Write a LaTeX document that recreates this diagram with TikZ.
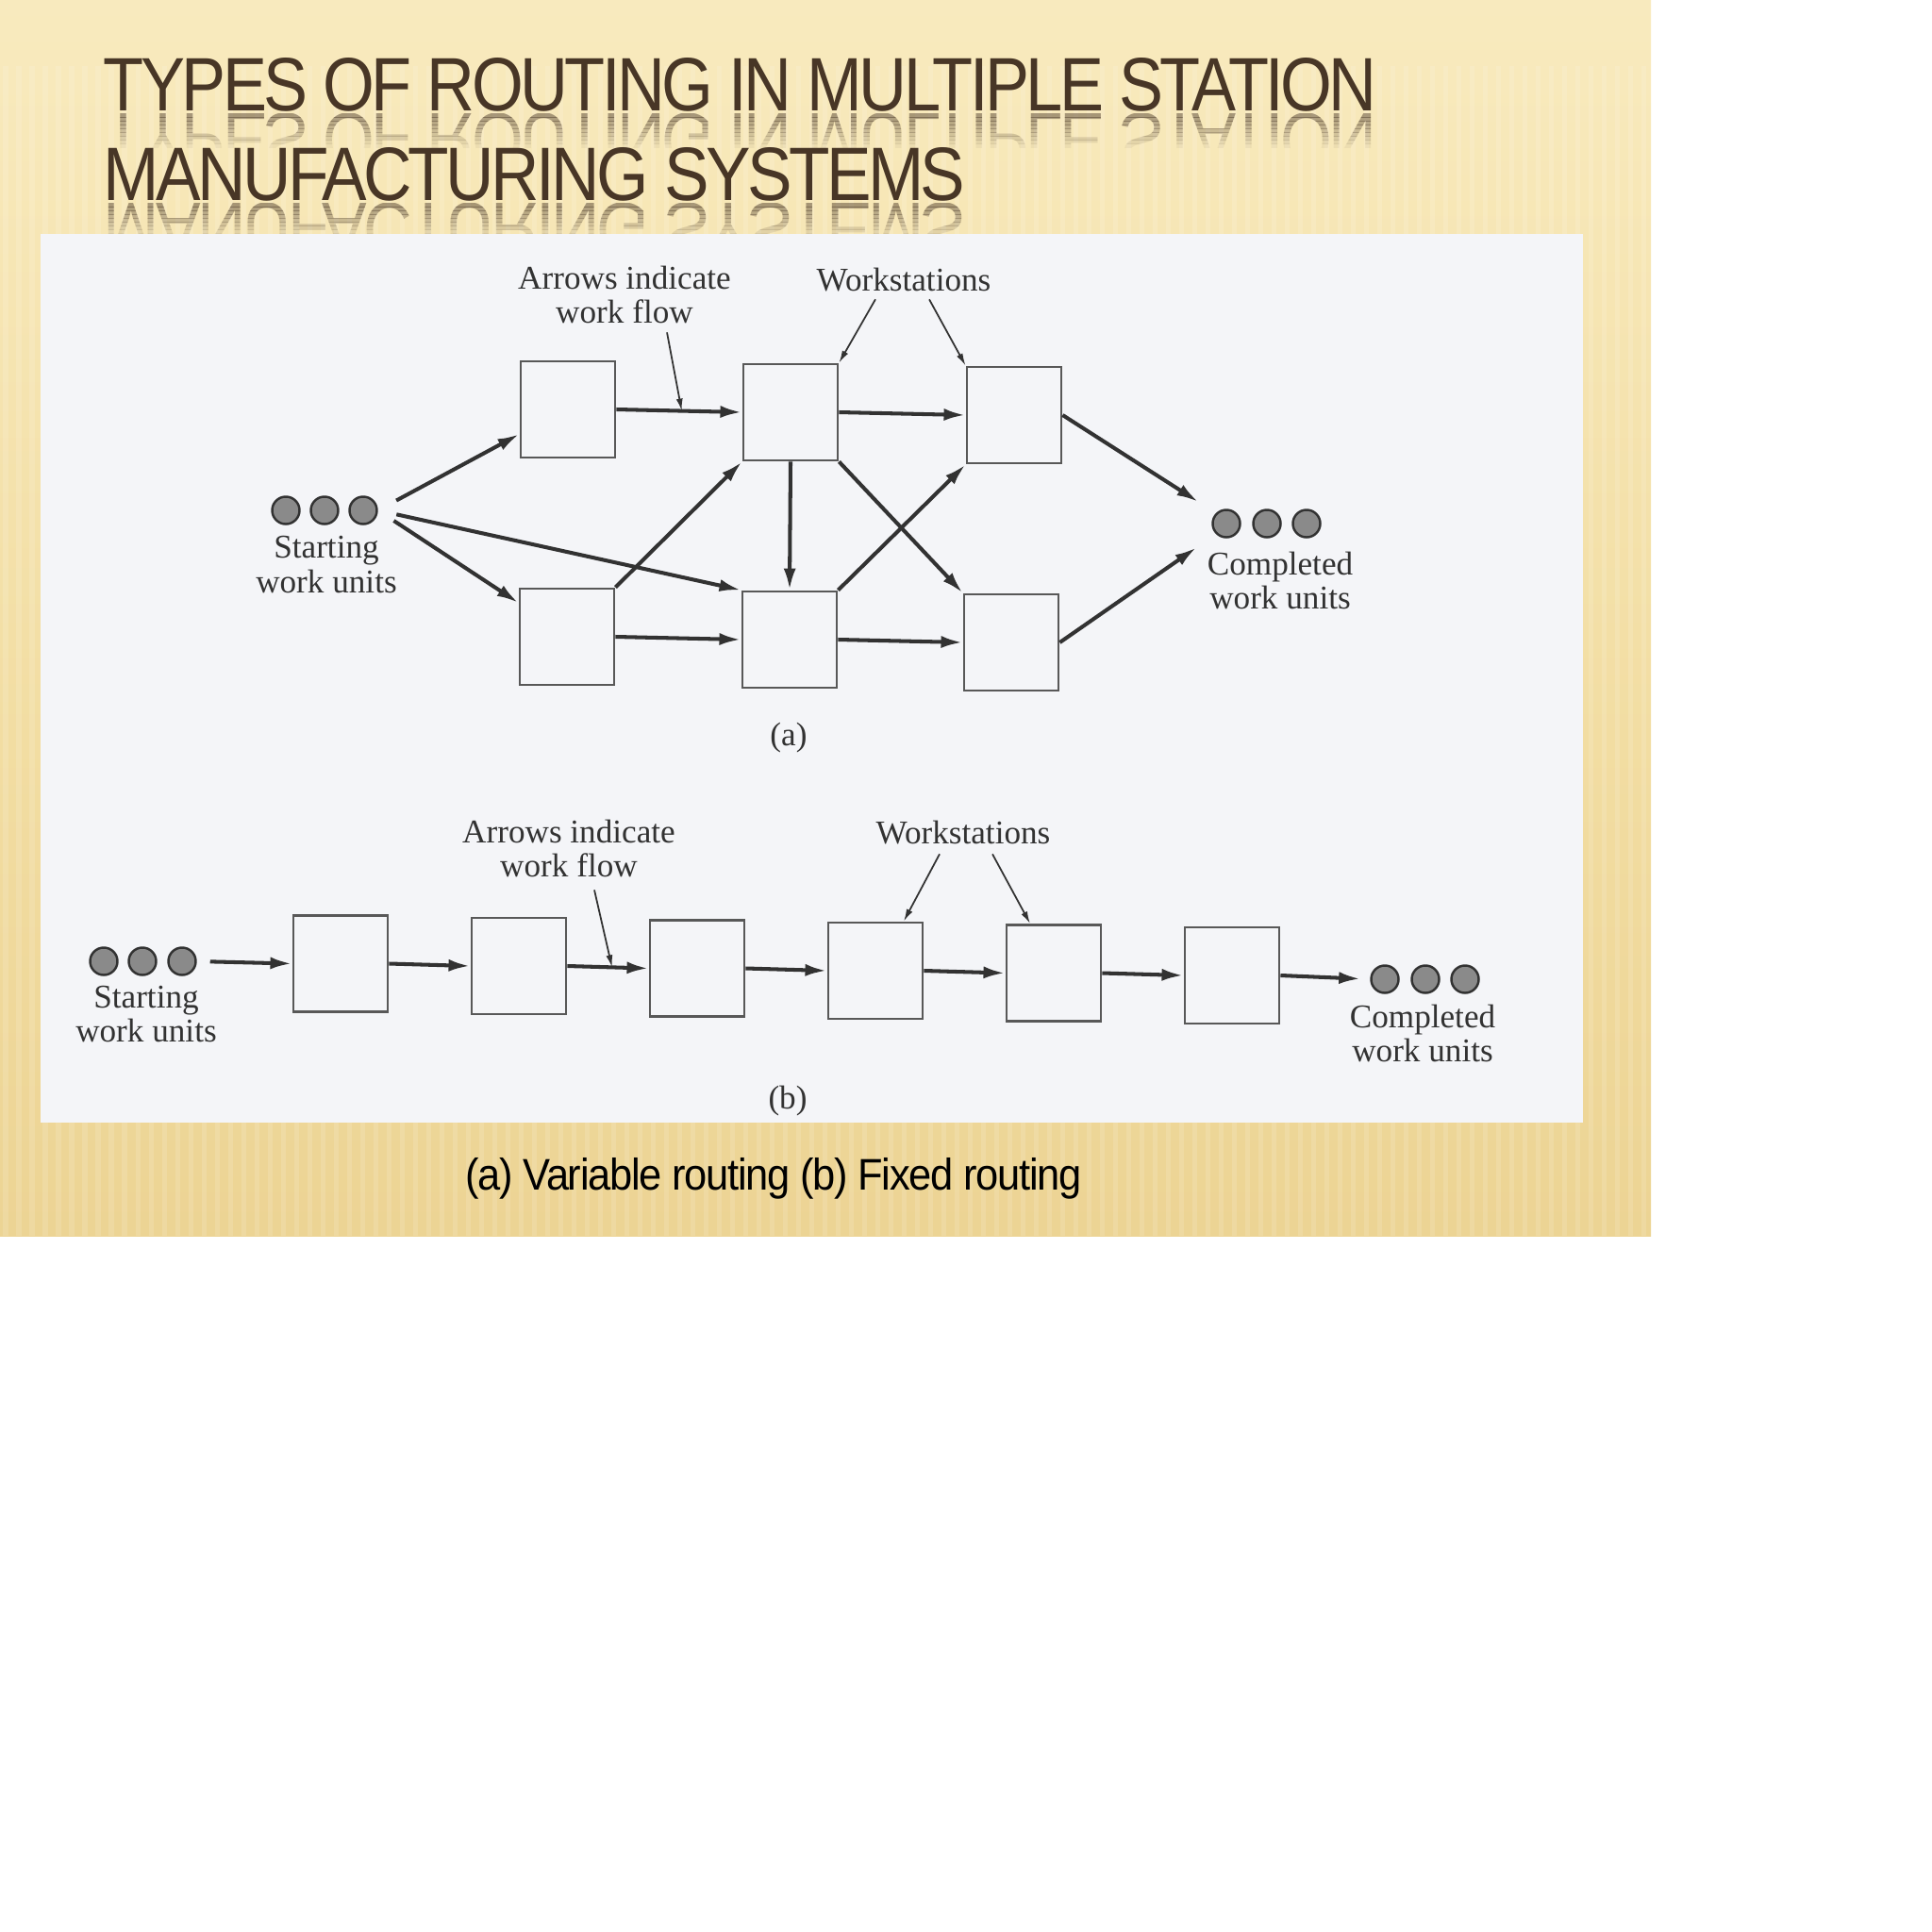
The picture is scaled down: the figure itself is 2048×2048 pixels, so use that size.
\documentclass[tikz,border=0pt]{standalone}
\usepackage{fontspec}
\setmainfont{Liberation Serif}
\newfontfamily\slidesans[LetterSpace=-3]{Liberation Sans}
\newfontfamily\titlefont[LetterSpace=-5]{Liberation Sans}
\usetikzlibrary{arrows.meta,calc}

\definecolor{bgtop}{RGB}{252,242,206}
\definecolor{bgmid}{RGB}{242,221,162}
\definecolor{bgbot}{RGB}{229,200,130}
\definecolor{titlebrown}{RGB}{72,54,38}
\definecolor{scanpaper}{RGB}{244,245,248}
\definecolor{scanink}{RGB}{50,50,50}
\definecolor{boxink}{RGB}{88,88,88}
\definecolor{unitfill}{RGB}{138,138,138}

\pgfdeclareverticalshading{slidebg}{100bp}{color(0bp)=(bgbot); color(45bp)=(bgmid); color(92bp)=(bgtop); color(100bp)=(bgtop)}

\def\titlelineA{\resizebox{13.49cm}{0.56cm}{\titlefont TYPES OF ROUTING IN MULTIPLE STATION}}
\def\titlelineB{\resizebox{9.13cm}{0.56cm}{\titlefont MANUFACTURING SYSTEMS}}

\tikzset{
	station/.style={draw=boxink, line width=0.8pt, minimum width=1cm, minimum height=1.02cm, inner sep=0pt},
	unit/.style={circle, draw=scanink, fill=unitfill, line width=0.7pt, minimum size=0.29cm, inner sep=0pt},
	flow/.style={draw=scanink, line width=1.15pt, -{Latex[length=0.23cm,width=0.13cm]}},
	pointer/.style={draw=scanink, line width=0.5pt, -{Latex[length=0.13cm,width=0.07cm]}},
	scanlabel/.style={text=scanink, font=\fontsize{10}{10.3}\selectfont, align=center, inner sep=0pt, anchor=north},
	titletext/.style={inner sep=0pt, text=titlebrown},
}

\begin{document}
\begin{tikzpicture}[x=0.01cm, y=-0.01cm]
		\useasboundingbox (0,0) rectangle (2048,2048);
		\fill[white] (0,0) rectangle (2048,2048);
		
		%%%%% SLIDE %%%%%
		
		\fill[shading=slidebg] (0,0) rectangle (1750,1310);
		\foreach \x in {6,20,...,1750}
			\draw[white, opacity=0.13, line width=0.05cm] (\x,70) -- (\x,1310);
		
		% title
		\node[titletext, anchor=base west] (titleA) at (109,117) {\titlelineA};
		\node[titletext, anchor=base west] (titleB) at (109,212) {\titlelineB};
		
		% reflections, fading out in bands
		\foreach \k [evaluate=\k as \op using 0.46-0.05*\k] in {0,...,8} {
			\begin{scope}
				\clip (100,{120+4*\k}) rectangle (1500,{124+4*\k});
				\node[titletext, anchor=north west, text opacity=\op] (mirrorA\k) at (109,119) {\scalebox{1}[-1]{\titlelineA}};
			\end{scope}
			\begin{scope}
				\clip (100,{215+4*\k}) rectangle (1500,{219+4*\k});
				\node[titletext, anchor=north west, text opacity=\op] (mirrorB\k) at (109,214) {\scalebox{1}[-1]{\titlelineB}};
			\end{scope}
		}
		
		% scanned figure
		\fill[scanpaper] (43,248) rectangle (1678,1190);
		
		%%%%% (a) VARIABLE ROUTING %%%%%
		
		\node[station] (wsAa) at (602,434) {};
		\node[station] (wsAb) at (601,675) {};
		\node[station] (wsBa) at (838,437) {};
		\node[station] (wsBb) at (837,678) {};
		\node[station] (wsCa) at (1075,440) {};
		\node[station] (wsCb) at (1072,681) {};
		
		\node[unit] (sa1) at (303,541) {};
		\node[unit] (sa2) at (344,541) {};
		\node[unit] (sa3) at (385,541) {};
		\node[scanlabel] (startA) at (346,568) {Starting\\work units};
		
		\node[unit] (ca1) at (1300,555) {};
		\node[unit] (ca2) at (1343,555) {};
		\node[unit] (ca3) at (1385,555) {};
		\node[scanlabel] (doneA) at (1357,584) {Completed\\work units};
		
		\draw[flow, shorten <=0.22cm] (sa3.east) -- (wsAa.207);
		\draw[flow, shorten <=0.2cm] (sa3.east) -- (wsBb.north west);
		\draw[flow, shorten <=0.2cm] (sa3.east) -- (wsAb.145);
		\draw[flow] (wsAa.east) -- (wsBa.west);
		\draw[flow] (wsAb.north east) -- (wsBa.south west);
		\draw[flow] (wsAb.east) -- (wsBb.west);
		\draw[flow] (wsBa.east) -- (wsCa.west);
		\draw[flow] (wsBa.south) -- (wsBb.north);
		\draw[flow] (wsBa.south east) -- (wsCb.north west);
		\draw[flow] (wsBb.north east) -- (wsCa.south west);
		\draw[flow] (wsBb.east) -- (wsCb.west);
		\draw[flow, shorten >=0.22cm] (wsCa.east) -- (ca1.north west);
		\draw[flow, shorten >=0.25cm] (wsCb.east) -- (ca1.south west);
		
		\node[scanlabel] (flowA) at (662,281) {Arrows indicate\\work flow};
		\node[scanlabel] (stationsA) at (958,283) {Workstations};
		\draw[pointer] ([xshift=0.45cm,yshift=-0.09cm]flowA.south) -- ($(wsAa.east)!0.52!(wsBa.west)$);
		\draw[pointer] ([xshift=-0.3cm,yshift=-0.08cm]stationsA.south) -- (wsBa.north east);
		\draw[pointer] ([xshift=0.27cm,yshift=-0.08cm]stationsA.south) -- (wsCa.north west);
		
		\node[anchor=base, text=scanink, font=\fontsize{10}{10.3}\selectfont, inner sep=0pt] (capA) at (836,790) {(a)};
		
		%%%%% (b) FIXED ROUTING %%%%%
		
		\foreach \i in {0,...,5}
			\node[station] (wsD\i) at ({361+189*\i},{1021.5+2.5*\i}) {};
		\foreach \i [count=\j from 1] in {0,...,4}
			\draw[flow] (wsD\i.east) -- (wsD\j.west);
		
		\node[unit] (sb1) at (110,1019) {};
		\node[unit] (sb2) at (151,1019) {};
		\node[unit] (sb3) at (193,1019) {};
		\node[scanlabel] (startB) at (155,1044) {Starting\\work units};
		\draw[flow, shorten <=0.14cm] (sb3.east) -- (wsD0.west);
		
		\node[unit] (cb1) at (1468,1038) {};
		\node[unit] (cb2) at (1511,1038) {};
		\node[unit] (cb3) at (1553,1038) {};
		\node[scanlabel] (doneB) at (1508,1064) {Completed\\work units};
		\draw[flow, shorten >=0.1cm] (wsD5.east) -- (cb1.west);
		
		\node[scanlabel] (flowB) at (603,868) {Arrows indicate\\work flow};
		\node[scanlabel] (stationsB) at (1021,869) {Workstations};
		\draw[pointer] ([xshift=0.27cm,yshift=-0.13cm]flowB.south) -- ($(wsD1.east)!0.55!(wsD2.west)$);
		\draw[pointer] ([xshift=-0.25cm,yshift=-0.1cm]stationsB.south) -- ([xshift=0.3cm]wsD3.north);
		\draw[pointer] ([xshift=0.31cm,yshift=-0.1cm]stationsB.south) -- ([xshift=-0.25cm]wsD4.north);
		
		\node[anchor=base, text=scanink, font=\fontsize{10}{10.3}\selectfont, inner sep=0pt] (capB) at (835,1175) {(b)};
		
		% slide caption
		\node[anchor=base, inner sep=0pt] (caption) at (820,1261) {\resizebox{6.53cm}{0.34cm}{\slidesans (a) Variable routing (b) Fixed routing}};
		
	\end{tikzpicture}
\end{document}
